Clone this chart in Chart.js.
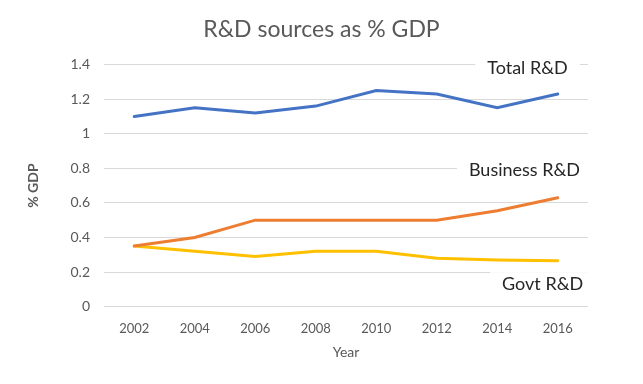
<!DOCTYPE html>
<html>
<head>
<meta charset="utf-8">
<script src="https://cdn.jsdelivr.net/npm/chart.js@4"></script>
<style>
  html, body { margin: 0; padding: 0; background: #fff; }
  #wrap { width: 643px; height: 384px; }
</style>
</head>
<body>
<div id="wrap"><canvas id="rdChart" width="643" height="384"></canvas></div>
<script>
const years = ['2002', '2004', '2006', '2008', '2010', '2012', '2014', '2016'];
const totalRD = [1.1, 1.15, 1.12, 1.16, 1.25, 1.23, 1.15, 1.23];
const businessRD = [0.35, 0.4, 0.5, 0.5, 0.5, 0.5, 0.555, 0.63];
const govtRD = [0.35, 0.32, 0.29, 0.32, 0.32, 0.28, 0.27, 0.265];
const yTickLabels = ['0', '0.2', '0.4', '0.6', '0.8', '1', '1.2', '1.4'];

const FONT = 'Lato, "Open Sans", sans-serif';
const GREY = '#595959';

// series names drawn inside the plot, Excel style
const seriesLabels = {
  id: 'seriesLabels',
  afterDatasetsDraw(chart) {
    const { ctx, scales: { x, y } } = chart;
    const items = [
      { text: 'Total R&D', xv: 6.5, yv: 1.38 },
      { text: 'Business R&D', xv: 6.45, yv: 0.79 },
      { text: 'Govt R&D', xv: 6.75, yv: 0.13 }
    ];
    ctx.save();
    ctx.font = '18px ' + FONT;
    ctx.textAlign = 'center';
    ctx.textBaseline = 'middle';
    items.forEach(it => {
      const px = x.getPixelForValue(it.xv);
      const py = y.getPixelForValue(it.yv);
      const w = ctx.measureText(it.text).width;
      ctx.fillStyle = '#fff';
      ctx.fillRect(px - w / 2 - 12, py - 12, w + 24, 24);
      ctx.fillStyle = '#262626';
      ctx.fillText(it.text, px, py);
    });
    ctx.restore();
  }
};

const ctx = document.getElementById('rdChart').getContext('2d');
new Chart(ctx, {
  type: 'line',
  data: {
    labels: years,
    datasets: [
      { label: 'Total R&D', data: totalRD, borderColor: '#4472C4' },
      { label: 'Business R&D', data: businessRD, borderColor: '#ED7D31' },
      { label: 'Govt R&D', data: govtRD, borderColor: '#FFC000' }
    ]
  },
  options: {
    responsive: false,
    animation: false,
    layout: { padding: { left: 0, right: 0, top: 0, bottom: 23 } },
    elements: {
      line: { borderWidth: 3, tension: 0, borderCapStyle: 'round' },
      point: { radius: 0 }
    },
    plugins: {
      legend: { display: false },
      tooltip: { enabled: false },
      title: {
        display: true,
        text: 'R&D sources as % GDP',
        color: GREY,
        font: { family: FONT, size: 23, weight: 'normal' },
        padding: { top: 16, bottom: 21 }
      }
    },
    scales: {
      x: {
        offset: true,
        grid: { display: false },
        border: { display: false },
        ticks: { color: GREY, font: { family: FONT, size: 13 }, padding: 6, maxRotation: 0 },
        title: {
          display: true, text: 'Year', color: GREY,
          font: { family: FONT, size: 14 }, padding: { top: 2, bottom: 0 }
        }
      },
      y: {
        min: 0,
        max: 1.4,
        afterFit(scale) { scale.width = 104; },
        grid: { color: '#d9d9d9', drawTicks: false },
        border: { display: false },
        ticks: {
          stepSize: 0.2,
          color: GREY,
          font: { family: FONT, size: 14 },
          padding: 14,
          callback: (v) => yTickLabels[Math.round(v / 0.2)]
        },
        title: {
          display: true, text: '% GDP', color: GREY,
          font: { family: FONT, size: 14, weight: 'bold' }, padding: { top: 25, bottom: 0 }
        }
      },
      yRight: {
        position: 'right',
        afterFit(scale) { scale.width = 55; },
        grid: { display: false },
        border: { display: false },
        ticks: { display: false }
      }
    }
  },
  plugins: [seriesLabels]
});
</script>
</body>
</html>
